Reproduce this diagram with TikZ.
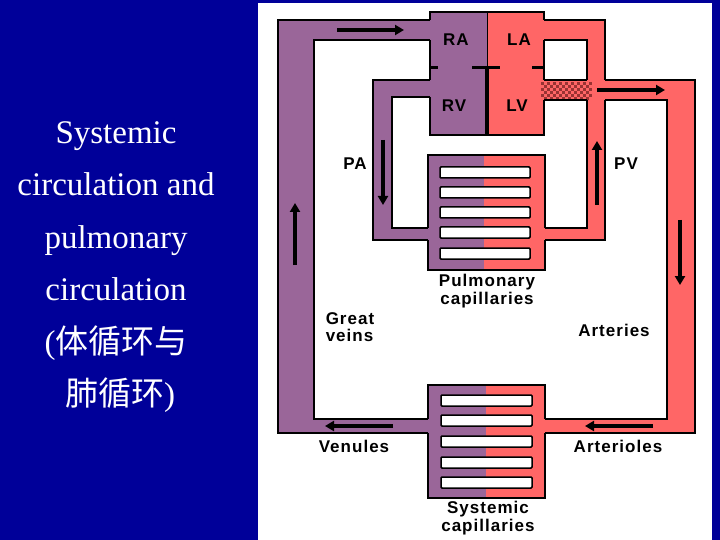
\documentclass[tikz,border=0pt]{standalone}
\usepackage{fontspec}
\usepackage{xcolor}
\usetikzlibrary{arrows.meta}
\setmainfont{Liberation Serif}
\newfontfamily\labelfont[LetterSpace=6]{Liberation Sans}
\newfontfamily\cjk{Noto Sans CJK SC}
\definecolor{slide}{HTML}{000099}
\definecolor{venous}{HTML}{9A6699}
\definecolor{arterial}{HTML}{FF6666}
\definecolor{dots}{HTML}{993333}
\tikzset{
	lbl/.style={font=\labelfont\bfseries\fontsize{17}{17.5}\selectfont, align=left, inner sep=0pt},
	flow/.style={line width=4.5pt, -{Triangle[length=9pt,width=10pt]}},
	wall/.style={line width=2.2pt},
	bar/.style={draw, line width=1.5pt, fill=white, rounded corners=1pt}
}
\begin{document}
\begin{tikzpicture}[x=1pt,y=-1pt]
	\useasboundingbox (0,0) rectangle (720,540);
	\fill[slide] (0,0) rectangle (720,540);
	\fill[white] (258,3) rectangle (712,540);
	
	% venous side
	\fill[venous] (278,20) rectangle (314,433);
	\fill[venous] (278,20) rectangle (431,40);
	\fill[venous] (278,419) rectangle (429,433);
	\fill[venous] (430,12) rectangle (487,135);
	\fill[venous] (373,80) rectangle (431,97);
	\fill[venous] (373,80) rectangle (392,240);
	\fill[venous] (373,228) rectangle (429,240);
	\fill[venous] (428,155) rectangle (484,270);
	\fill[venous] (428,385) rectangle (486,498);
	
	% arterial side
	\fill[arterial] (487,12) rectangle (544,135);
	\fill[arterial] (543,20) rectangle (605,40);
	\fill[arterial] (587,20) rectangle (605,240);
	\fill[arterial] (544,228) rectangle (605,240);
	\fill[arterial] (543,80) rectangle (695,100);
	\fill[arterial] (667,80) rectangle (695,433);
	\fill[arterial] (544,419) rectangle (695,433);
	\fill[arterial] (484,155) rectangle (545,270);
	\fill[arterial] (486,385) rectangle (545,498);
	
	% mixing dots at the aortic valve
	\foreach \i in {0,...,16}{
		\foreach \j in {0,...,5}{
			\pgfmathtruncatemacro\odd{mod(\i+\j,2)}
			\ifnum\odd=0
				\fill[dots] ({541+3*\i},{82+3*\j}) rectangle ++(3,3);
			\fi
		}
	}
	
	% walls
	\draw[wall] (430,20) -- (278,20) -- (278,433) -- (428,433);
	\draw[wall] (430,40) -- (314,40) -- (314,419) -- (428,419);
	\draw[wall] (430,20) -- (430,12) -- (544,12) -- (544,20);
	\draw[wall] (430,40) -- (430,80);
	\draw[wall] (430,97) -- (430,135) -- (544,135) -- (544,100);
	\draw[wall] (544,40) -- (544,80);
	\draw[line width=1pt] (487,12) -- (487,68);
	\draw[line width=3.5pt] (487,68) -- (487,135);
	\draw[line width=3pt] (430,68) -- (438,68) (472,68) -- (500,68) (532,68) -- (544,68);
	\draw[wall] (430,80) -- (373,80) -- (373,240) -- (428,240);
	\draw[wall] (430,97) -- (392,97) -- (392,228) -- (428,228);
	\draw[wall] (428,228) -- (428,155) -- (545,155) -- (545,228);
	\draw[wall] (428,240) -- (428,270) -- (545,270) -- (545,240);
	\draw[wall] (545,228) -- (587,228) -- (587,100);
	\draw[wall] (587,80) -- (587,40) -- (544,40);
	\draw[wall] (544,20) -- (605,20) -- (605,80);
	\draw[wall] (545,240) -- (605,240) -- (605,100);
	\draw[wall] (544,80) -- (587,80);
	\draw[wall] (605,80) -- (695,80) -- (695,433) -- (545,433);
	\draw[wall] (544,100) -- (587,100);
	\draw[wall] (605,100) -- (667,100) -- (667,419) -- (545,419);
	\draw[wall] (428,419) -- (428,385) -- (545,385) -- (545,419);
	\draw[wall] (428,433) -- (428,498) -- (545,498) -- (545,433);
	
	% capillary beds
	\foreach \y in {167,187,207,227,248}{
		\draw[bar] (440,\y) rectangle (530,\y+11);
	}
	\foreach \y in {395,415,436,457,477}{
		\draw[bar] (441,\y) rectangle (532,\y+11);
	}
	
	% flow
	\draw[flow] (337,30) -- (404,30);
	\draw[flow] (383,140) -- (383,205);
	\draw[flow] (597,205) -- (597,141);
	\draw[flow] (597,90) -- (665,90);
	\draw[flow] (295,265) -- (295,203);
	\draw[flow] (680,220) -- (680,285);
	\draw[flow] (393,426) -- (325,426);
	\draw[flow] (653,426) -- (585,426);
	
	% labels
	\node[lbl] (ra) at (456,40) {RA};
	\node[lbl] (la) at (519,40) {LA};
	\node[lbl] (rv) at (454,106) {RV};
	\node[lbl] (lv) at (517,106) {LV};
	\node[lbl] (pa) at (355,164) {PA};
	\node[lbl] (pv) at (626,164) {PV};
	\node[lbl, align=center] (pulm) at (487,291) {Pulmonary\\capillaries};
	\node[lbl] (veins) at (350,327) {Great\\veins};
	\node[lbl] (art) at (614,330) {Arteries};
	\node[lbl] (ven) at (354,446) {Venules};
	\node[lbl] (artl) at (618,446) {Arterioles};
	\node[lbl, align=center] (sys) at (488,518) {Systemic\\capillaries};
	
	\node[text=white, align=center, font=\fontsize{33}{52.5}\selectfont, anchor=north] (title) at (116,118)
		{Systemic\\circulation and\\pulmonary\\circulation\\({\cjk 体循环与}\\ \ {\cjk 肺循环})};
\end{tikzpicture}
\end{document}
